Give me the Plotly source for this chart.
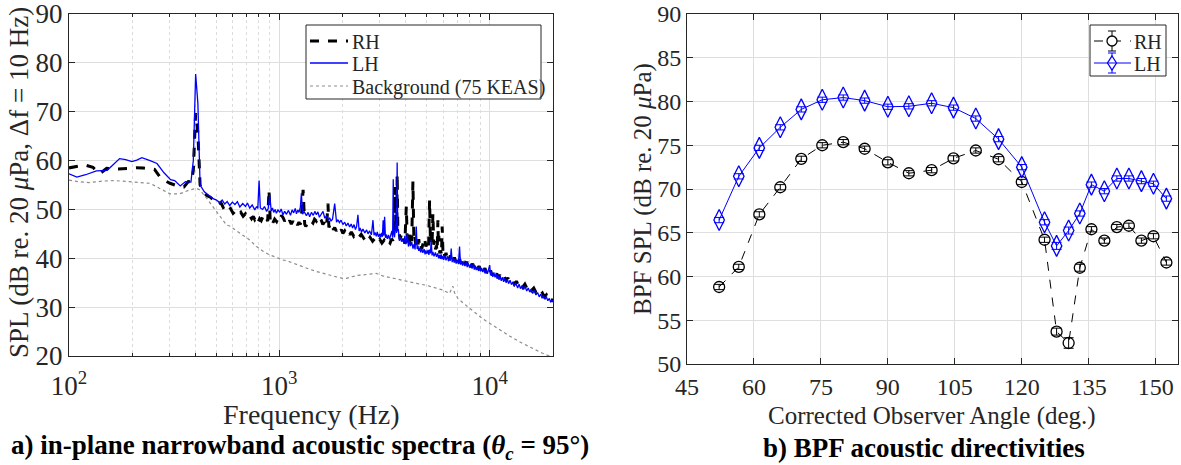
import math
import plotly.graph_objects as go

# ---------------- (a) narrowband spectra ----------------
freq_lh = [100, 109, 120, 135, 152, 163, 174, 186, 199, 210, 222, 243, 262, 283, 304, 318, 338, 358, 380, 390,
           400, 410, 420, 440, 460, 484, 503, 521, 535, 550, 565, 581, 598, 615, 632, 649, 670, 690, 705, 723,
           743, 764, 780, 790, 801, 812, 833, 850, 870, 885, 900, 915, 928, 940, 955, 968, 985, 1005, 1020, 1040,
           1060, 1081, 1105, 1130, 1150, 1170, 1190, 1206, 1225, 1240, 1258, 1273, 1290, 1310, 1345, 1370, 1394, 1420, 1450, 1475,
           1500, 1525, 1550, 1580, 1613, 1645, 1680, 1710, 1735, 1760, 1790, 1833, 1870, 1900, 1930, 1965, 2006, 2045, 2080, 2120,
           2158, 2195, 2230, 2265, 2300, 2330, 2364, 2395, 2420, 2460, 2497, 2550, 2600, 2640, 2686, 2740, 2787, 2820, 2850, 2890,
           2920, 2960, 2999, 3030, 3060, 3090, 3115, 3140, 3166, 3195, 3220, 3260, 3300, 3340, 3380, 3430, 3455, 3480, 3505, 3530,
           3560, 3590, 3610, 3632, 3655, 3680, 3720, 3760, 3810, 3865, 3910, 3950, 4000, 4055, 4110, 4150, 4200, 4260, 4320, 4370,
           4420, 4478, 4520, 4560, 4600, 4645, 4700, 4750, 4810, 4880, 4930, 4974, 5030, 5090, 5140, 5180, 5230, 5270, 5320, 5370,
           5440, 5520, 5590, 5660, 5720, 5780, 5830, 5880, 5930, 5985, 6050, 6120, 6200, 6300, 6370, 6440, 6500, 6564, 6630, 6700,
           6780, 6850, 6930, 7010, 7100, 7190, 7270, 7360, 7440, 7520, 7620, 7734, 7820, 7900, 8017, 8130, 8250, 8350, 8450, 8540,
           8630, 8740, 8850, 8950, 9050, 9160, 9277, 9380, 9500, 9620, 9750, 9870, 10000, 10100, 10200, 10350, 10470, 10600, 10745, 10850,
           10950, 11080, 11200, 11350, 11500, 11650, 11800, 11980, 12150, 12300, 12500, 12700, 12900, 13100, 13300, 13580, 13800, 14000, 14250, 14500,
           14750, 15000, 15250, 15500, 15750, 16000, 16300, 16600, 16900, 17200, 17500, 17750, 18000, 18300, 18600, 18900, 19200, 19500, 19750, 20000]
spl_lh = [57.3, 56.6, 57.1, 57.9, 58.0, 59.2, 60.4, 60.2, 59.8, 60.1, 60.6, 60.0, 59.4, 57.5, 56.1, 55.9, 54.8, 55.7, 55.6, 60.0,
          77.7, 71.7, 55.0, 53.6, 53.0, 52.2, 51.9, 51.4, 51.9, 51.1, 51.6, 50.8, 51.5, 51.0, 51.6, 50.5, 51.2, 50.6, 51.3, 50.3,
          50.9, 49.9, 50.6, 50.2, 55.9, 50.3, 50.0, 50.6, 49.6, 50.2, 53.0, 49.7, 50.3, 49.4, 50.0, 49.2, 49.9, 49.4, 50.1, 48.9,
          49.6, 49.0, 49.8, 48.8, 49.9, 49.3, 50.2, 49.1, 49.9, 49.4, 50.4, 53.3, 49.0, 49.6, 48.7, 49.4, 48.5, 49.4, 48.8, 49.6,
          48.9, 49.5, 48.4, 48.9, 49.6, 48.2, 48.7, 47.8, 48.3, 47.6, 48.0, 51.2, 47.4, 47.9, 47.3, 47.8, 46.9, 47.4, 46.6, 47.2,
          46.4, 47.0, 46.2, 46.9, 45.9, 46.5, 48.9, 45.6, 46.2, 45.4, 46.0, 45.2, 45.8, 45.0, 45.6, 44.8, 47.8, 44.7, 45.3, 44.5,
          45.4, 44.4, 45.0, 44.3, 45.2, 44.4, 47.8, 44.6, 48.5, 44.2, 44.9, 44.0, 44.8, 43.9, 44.5, 45.6, 44.2, 56.2, 45.0, 44.3,
          46.0, 47.5, 45.2, 59.6, 45.5, 46.0, 43.6, 44.3, 43.4, 43.8, 43.1, 44.6, 42.9, 45.1, 42.4, 43.6, 42.5, 43.3, 42.0, 42.9,
          41.8, 46.5, 41.9, 42.6, 41.5, 42.2, 41.2, 42.0, 41.1, 41.9, 40.8, 41.6, 40.9, 41.7, 40.7, 41.8, 41.0, 43.8, 40.6, 41.3,
          40.4, 41.2, 40.3, 41.0, 40.0, 40.7, 39.9, 40.8, 39.8, 40.5, 39.7, 40.6, 39.6, 40.4, 39.4, 40.1, 39.5, 42.0, 39.2, 40.0,
          39.1, 39.9, 38.9, 39.7, 38.8, 42.4, 38.7, 39.4, 38.5, 39.3, 38.4, 39.2, 38.2, 39.0, 38.1, 38.9, 37.9, 38.8, 37.7, 38.5,
          37.6, 38.3, 37.4, 38.4, 37.3, 38.0, 37.2, 37.9, 36.9, 37.7, 36.8, 37.5, 38.6, 36.6, 37.3, 36.2, 37.1, 36.1, 36.8, 35.8,
          36.6, 35.6, 36.4, 35.4, 36.1, 35.2, 35.9, 35.0, 35.7, 34.8, 35.5, 34.6, 35.2, 34.3, 35.0, 33.9, 34.7, 33.8, 34.4, 33.6,
          34.2, 33.3, 33.9, 33.1, 33.7, 32.8, 33.4, 32.5, 33.0, 32.1, 32.7, 31.8, 32.4, 31.6, 32.1, 31.3, 31.8, 31.0, 31.5, 31.0]

freq_rh = [100, 110, 119, 130, 140, 151, 171, 190, 209, 225, 243, 255, 270, 286, 302, 320, 336, 352, 369, 382,
           390, 400, 410, 420, 434, 453, 470, 484, 498, 512, 527, 541, 556, 570, 586, 603, 620, 640, 656, 673,
           690, 705, 720, 738, 752, 765, 780, 793, 806, 820, 835, 850, 865, 880, 893, 905, 918, 933, 950, 970,
           990, 1010, 1025, 1042, 1060, 1080, 1100, 1120, 1140, 1160, 1180, 1200, 1220, 1240, 1255, 1270, 1297, 1320, 1335, 1360,
           1390, 1415, 1445, 1470, 1500, 1525, 1555, 1580, 1610, 1635, 1660, 1680, 1703, 1720, 1740, 1765, 1790, 1810, 1833, 1865,
           1900, 1935, 1970, 2005, 2045, 2080, 2120, 2160, 2200, 2260, 2325, 2390, 2450, 2520, 2593, 2650, 2700, 2775, 2850, 2925,
           3000, 3075, 3150, 3225, 3300, 3360, 3420, 3460, 3500, 3530, 3560, 3580, 3600, 3615, 3632, 3660, 3700, 3750, 3800, 3850,
           3900, 3950, 4014, 4060, 4100, 4150, 4200, 4260, 4316, 4360, 4400, 4450, 4500, 4550, 4600, 4650, 4700, 4750, 4800, 4850,
           4900, 4975, 5050, 5120, 5180, 5230, 5270, 5320, 5370, 5420, 5480, 5530, 5580, 5630, 5673, 5700, 5730, 5790, 5850, 5900,
           5945, 6000, 6050, 6120, 6200, 6270, 6350, 6420, 6500, 6580, 6650, 6730, 6800, 6900, 7000, 7100, 7200, 7300, 7400, 7500,
           7600, 7700, 7800, 7900, 8000, 8150, 8300, 8450, 8600, 8750, 8900, 9050, 9200, 9350, 9500, 9650, 9800, 9950, 10100, 10250,
           10400, 10600, 10800, 11000, 11200, 11450, 11700, 11950, 12200, 12500, 12800, 13100, 13400, 13700, 14000, 14350, 14700, 15050, 15400, 15800,
           16200, 16600, 17000, 17400, 17800, 18200, 18600, 18950, 19300, 19650, 20000]
spl_rh = [58.5, 58.9, 59.1, 58.6, 57.3, 58.4, 58.3, 58.4, 58.55, 58.5, 58.3, 58.2, 56.7, 55.9, 55.35, 54.9, 54.65, 54.6, 55.7, 55.6,
          58.0, 69.7, 65.6, 55.0, 53.6, 52.8, 52.5, 52.0, 51.6, 51.0, 51.4, 50.4, 50.8, 49.8, 50.2, 49.2, 49.7, 48.9, 49.4, 48.6,
          49.1, 48.4, 48.9, 48.1, 48.6, 47.9, 48.4, 47.4, 48.1, 47.7, 48.5, 47.9, 48.4, 47.6, 54.0, 47.7, 48.3, 47.3, 48.0, 47.5,
          48.4, 47.9, 48.8, 48.3, 47.6, 48.1, 47.2, 47.7, 47.0, 47.6, 46.9, 47.5, 46.8, 47.4, 46.9, 47.6, 54.0, 47.0, 46.5, 47.2,
          46.9, 47.6, 47.2, 48.0, 47.6, 48.2, 47.5, 47.9, 46.9, 47.4, 46.4, 47.0, 51.2, 46.3, 46.8, 46.0, 46.5, 45.8, 46.3, 45.6,
          46.1, 45.3, 45.9, 45.1, 45.6, 45.0, 45.5, 44.8, 45.4, 44.5, 45.1, 44.3, 44.9, 44.1, 44.6, 43.7, 44.3, 43.5, 44.1, 43.3,
          43.9, 43.1, 43.7, 42.9, 43.5, 43.1, 44.0, 43.6, 44.5, 45.0, 54.6, 45.5, 47.0, 46.0, 57.2, 45.6, 45.5, 43.9, 44.8, 43.3,
          44.0, 43.0, 50.6, 43.2, 44.0, 43.0, 45.4, 43.5, 55.7, 44.1, 44.9, 42.8, 43.5, 42.5, 43.9, 42.2, 42.8, 41.9, 42.7, 43.5,
          44.2, 42.4, 43.1, 42.0, 51.9, 43.3, 44.5, 42.5, 49.2, 42.8, 43.8, 41.8, 42.6, 41.4, 47.8, 42.9, 44.6, 41.0, 41.6, 40.7,
          46.5, 40.8, 41.4, 40.4, 41.1, 40.1, 40.8, 39.9, 40.6, 39.7, 40.4, 39.5, 40.2, 39.3, 40.0, 39.1, 39.8, 38.9, 39.6, 38.7,
          39.4, 38.6, 39.3, 38.4, 39.0, 38.2, 38.9, 38.0, 38.7, 37.8, 38.4, 37.6, 38.3, 37.3, 38.0, 37.0, 37.7, 36.8, 37.5, 36.5,
          37.2, 36.3, 36.9, 36.0, 36.6, 35.7, 36.3, 35.4, 36.0, 35.1, 35.6, 34.7, 35.3, 34.4, 35.0, 34.1, 34.7, 33.8, 34.3, 33.4,
          33.9, 33.0, 33.4, 32.5, 32.9, 32.1, 32.5, 31.7, 32.0, 31.4, 31.6]

freq_bg = [100, 110, 125, 145, 165, 188, 215, 243, 270, 302, 336, 375, 404, 419, 451, 480, 503, 530, 561, 581,
           620, 673, 720, 779, 840, 900, 970, 1042, 1100, 1162, 1270, 1394, 1500, 1613, 1740, 1867, 2000, 2084, 2200, 2350,
           2497, 2700, 2890, 3100, 3480, 3800, 4160, 4550, 4974, 5500, 5985, 6440, 6600, 6680, 6800, 7060, 7500, 8017, 8600, 9277,
           10000, 10745, 11500, 12420, 13870, 15500, 17750, 20000]
spl_bg = [56.0, 55.7, 55.5, 55.8, 55.9, 55.7, 55.6, 55.35, 54.3, 53.2, 53.2, 54.0, 54.3, 54.0, 52.3, 50.8, 49.5, 48.2, 46.8, 46.6,
          45.8, 44.8, 43.8, 42.4, 41.4, 40.7, 40.1, 39.65, 39.4, 39.0, 38.3, 37.75, 37.3, 36.9, 36.5, 36.2, 35.9, 35.9, 36.2, 36.5,
          36.6, 36.8, 36.9, 36.4, 35.9, 35.5, 35.2, 34.8, 34.5, 34.0, 33.5, 32.8, 33.6, 34.3, 33.0, 31.8, 30.8, 29.8, 28.9, 27.6,
          26.7, 25.8, 25.0, 24.1, 22.9, 21.8, 20.6, 19.7]

freq_tickvals = [100, 1000, 10000]
freq_ticktext = ["10<sup>2</sup>", "10<sup>3</sup>", "10<sup>4</sup>"]
freq_minor = [200, 300, 400, 500, 600, 700, 800, 900, 2000, 3000, 4000, 5000, 6000, 7000, 8000, 9000]
spl_ticks_a = [20, 30, 40, 50, 60, 70, 80, 90]
legend_a = ["RH", "LH", "Background (75 KEAS)"]

# ---------------- (b) BPF directivities ----------------
angle = [52.2, 56.6, 61.2, 65.9, 70.6, 75.3, 80.0, 84.8, 90.0, 94.7, 99.8, 104.7, 109.7, 114.8, 120.0,
         125.1, 127.8, 130.5, 133.0, 135.6, 138.5, 141.3, 144.0, 146.8, 149.5, 152.4]
bpf_rh = [58.8, 61.1, 67.1, 70.2, 73.45, 75.0, 75.35, 74.6, 73.05, 71.8, 72.15, 73.5, 74.4, 73.4, 70.8,
          64.2, 53.7, 52.4, 61.0, 65.4, 64.1, 65.65, 65.8, 64.1, 64.6, 61.6]
bpf_rh_err = [0.3, 0.3, 0.3, 0.3, 0.3, 0.3, 0.3, 0.3, 0.3, 0.3, 0.3, 0.3, 0.3, 0.3, 0.3,
              0.3, 0.4, 0.6, 0.4, 0.3, 0.3, 0.3, 0.3, 0.3, 0.3, 0.3]
bpf_lh = [66.45, 71.45, 74.7, 77.05, 79.1, 80.2, 80.45, 80.1, 79.4, 79.45, 79.8, 79.3, 78.05, 75.7, 72.5,
          66.2, 63.5, 65.25, 67.2, 70.5, 69.75, 71.2, 71.2, 70.9, 70.6, 68.9]
bpf_lh_err = [0.3, 0.3, 0.3, 0.3, 0.3, 0.3, 0.3, 0.3, 0.3, 0.3, 0.3, 0.3, 0.3, 0.3, 0.3,
              0.3, 0.4, 0.4, 0.3, 0.3, 0.3, 0.3, 0.3, 0.3, 0.3, 0.3]
angle_ticks = [45, 60, 75, 90, 105, 120, 135, 150]
spl_ticks_b = [50, 55, 60, 65, 70, 75, 80, 85, 90]
legend_b = ["RH", "LH"]

W, H = 1181, 465
FONT = "Liberation Serif"
AX = "#262626"
GRID = "#dedede"
BLUE = "#0000ff"
GRAY = "#8c8c8c"


def px(v):
    return v / W


def py(v):
    return 1 - v / H


fig = go.Figure()

# draw order as in the original: RH, LH, background
fig.add_trace(go.Scatter(x=freq_rh, y=spl_rh, mode="lines", name=legend_a[0],
                         line=dict(color="black", width=3, dash="dash"), xaxis="x", yaxis="y"))
fig.add_trace(go.Scatter(x=freq_lh, y=spl_lh, mode="lines", name=legend_a[1],
                         line=dict(color=BLUE, width=1.3), xaxis="x", yaxis="y"))
fig.add_trace(go.Scatter(x=freq_bg, y=spl_bg, mode="lines", name=legend_a[2],
                         line=dict(color=GRAY, width=1.2, dash="dot"), xaxis="x", yaxis="y"))

fig.add_trace(go.Scatter(x=angle, y=bpf_rh, mode="lines+markers", name=legend_b[0],
                         line=dict(color="black", width=1, dash="dash"),
                         marker=dict(symbol="circle-open", size=11, color="black", line=dict(width=1.3)),
                         error_y=dict(type="data", array=bpf_rh_err, visible=True, color="black",
                                      thickness=1, width=5),
                         xaxis="x2", yaxis="y2"))
fig.add_trace(go.Scatter(x=angle, y=bpf_lh, mode="lines+markers", name=legend_b[1],
                         line=dict(color=BLUE, width=1),
                         marker=dict(symbol="diamond-tall-open", size=15, color=BLUE, line=dict(width=1.3)),
                         error_y=dict(type="data", array=bpf_lh_err, visible=True, color=BLUE,
                                      thickness=1, width=5),
                         xaxis="x2", yaxis="y2"))


def axis_common(fs):
    return dict(showline=True, linecolor=AX, linewidth=1, mirror="allticks",
                ticks="inside", ticklen=6, tickcolor=AX, automargin=False,
                ticklabeloverflow="allow",
                showgrid=True, gridcolor=GRID, gridwidth=1, zeroline=False,
                tickfont=dict(family=FONT, size=fs, color=AX))


fig.update_layout(
    width=W, height=H, autosize=False,
    margin=dict(l=0, r=0, t=0, b=0, pad=0, autoexpand=False),
    paper_bgcolor="white", plot_bgcolor="white",
    font=dict(family=FONT, color=AX),
    showlegend=False,
    xaxis=dict(type="log", range=[2, math.log10(20000)], domain=[px(69), px(553)],
               tickmode="array", tickvals=freq_tickvals, ticktext=freq_ticktext,
               minor=dict(tickmode="array", tickvals=freq_minor, ticks="inside", ticklen=3,
                          tickcolor=AX, showgrid=True, gridcolor="#dcdcdc", griddash="dot"),
               anchor="y", ticklabelstandoff=6, **axis_common(27)),
    yaxis=dict(range=[20, 90], domain=[py(356), py(14)], tickmode="array", tickvals=spl_ticks_a,
               anchor="x", **axis_common(27)),
    xaxis2=dict(range=[45, 155], domain=[px(687), px(1178)], tickmode="array", tickvals=angle_ticks,
                anchor="y2", ticklabelstandoff=1, **axis_common(24)),
    yaxis2=dict(range=[50, 90], domain=[py(364), py(14)], tickmode="array", tickvals=spl_ticks_b,
                anchor="x2", **axis_common(24)),
)

shapes = []
annots = []


def hline(x0, x1, y, color, width, dash="solid"):
    shapes.append(dict(type="line", xref="paper", yref="paper", x0=px(x0), x1=px(x1), y0=py(y), y1=py(y),
                       line=dict(color=color, width=width, dash=dash), layer="above"))


def vline(x, y0, y1, color, width):
    shapes.append(dict(type="line", xref="paper", yref="paper", x0=px(x), x1=px(x), y0=py(y0), y1=py(y1),
                       line=dict(color=color, width=width), layer="above"))


def box(x0, x1, y0, y1):
    shapes.append(dict(type="rect", xref="paper", yref="paper", x0=px(x0), x1=px(x1), y0=py(y1), y1=py(y0),
                       line=dict(color=AX, width=1), fillcolor="white", layer="above"))


def label(text, x, y, fs=20):
    annots.append(dict(text=text, x=px(x), y=py(y), xanchor="left", yanchor="middle",
                       font=dict(size=fs)))


# legend of panel (a)
box(306, 541, 25, 99)
hline(310, 348, 41, "black", 3, "dash")
hline(310, 348, 63, BLUE, 1.3)
hline(310, 348, 86, GRAY, 1.2, "dot")
label(legend_a[0], 350, 42)
label(legend_a[1], 350, 64)
label(legend_a[2], 350, 87)

# legend of panel (b)
box(1090, 1166, 25, 76)
for yy, col, dash in [(41, "black", "dash"), (63, BLUE, "solid")]:
    hline(1094, 1131, yy, col, 1, dash)
    vline(1112, yy - 10, yy + 10, col, 1)
    hline(1108, 1116, yy - 10, col, 1)
    hline(1108, 1116, yy + 10, col, 1)
shapes.append(dict(type="circle", xref="paper", yref="paper", x0=px(1107), x1=px(1117), y0=py(46), y1=py(36),
                   line=dict(color="black", width=1.3), fillcolor="white", layer="above"))
dpath = "M {a},{b} L {c},{d} L {a},{e} L {f},{d} Z".format(
    a=px(1112), b=py(56), c=px(1116.5), d=py(63), e=py(70), f=px(1107.5))
shapes.append(dict(type="path", xref="paper", yref="paper", path=dpath,
                   line=dict(color=BLUE, width=1.3), fillcolor="white", layer="above"))
hline(1108, 1116, 63, BLUE, 1)
label(legend_b[0], 1132, 42)
label(legend_b[1], 1132, 64)

annots += [
    dict(text="Frequency (Hz)", x=px(311), y=py(414), font=dict(size=28)),
    dict(text="Corrected Observer Angle (deg.)", x=px(932), y=py(416), font=dict(size=25)),
    dict(text="SPL (dB re. 20 <i>μ</i>Pa, Δf = 10 Hz)", x=px(19), y=py(183), textangle=-90, font=dict(size=27)),
    dict(text="BPF SPL (dB re. 20 <i>μ</i>Pa)", x=px(643), y=py(189), textangle=-90, font=dict(size=25)),
    dict(text="<b>a) in-plane narrowband acoustic spectra (<i>θ<sub>c</sub></i> = 95°)</b>", x=px(300), y=py(447),
         font=dict(size=27, color="black")),
    dict(text="<b>b) BPF acoustic directivities</b>", x=px(924), y=py(448), font=dict(size=27, color="black")),
]
for a in annots:
    f = dict(family=FONT, color=AX)
    f.update(a.pop("font"))
    a.setdefault("xanchor", "center")
    a.setdefault("yanchor", "middle")
    fig.add_annotation(xref="paper", yref="paper", showarrow=False, font=f, **a)

fig.update_layout(shapes=shapes)
fig.write_html("out.html", post_script="document.body.style.margin='0';")
